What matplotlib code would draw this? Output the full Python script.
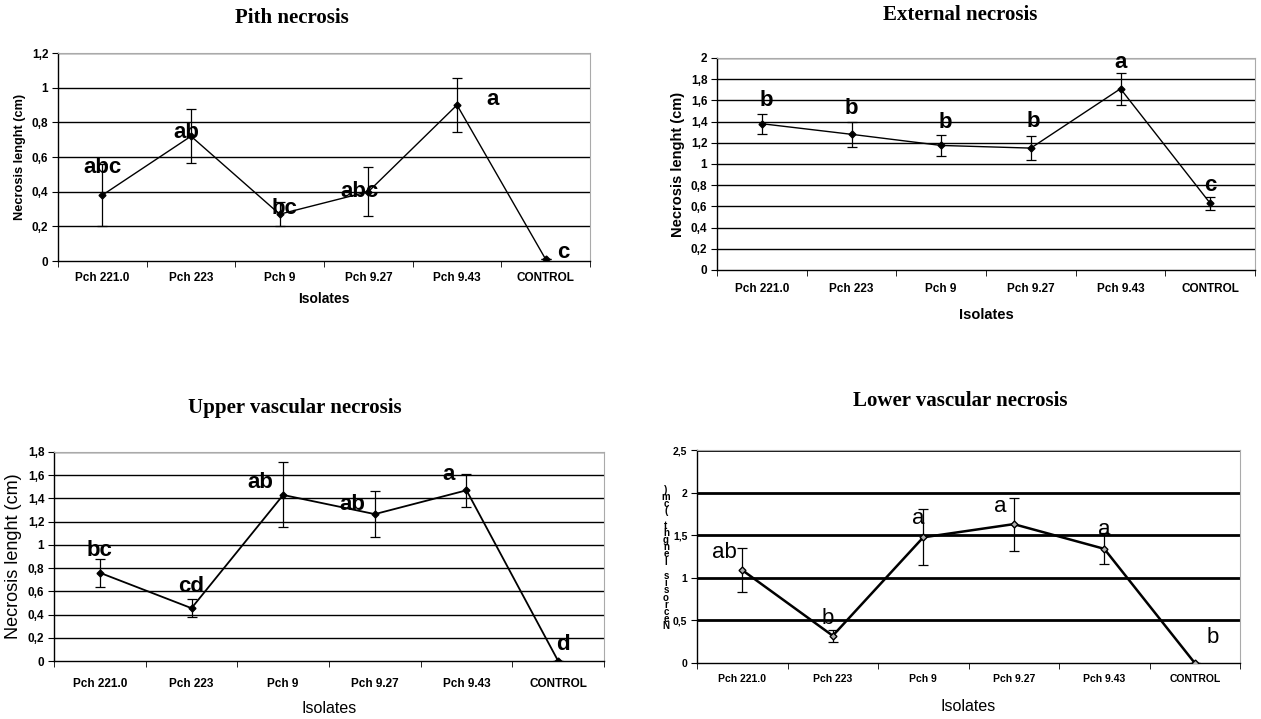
import numpy as np
import matplotlib
matplotlib.use('Agg')
import matplotlib.pyplot as plt
from matplotlib.ticker import FuncFormatter

isolates = ['Pch 221.0', 'Pch 223', 'Pch 9', 'Pch 9.27', 'Pch 9.43', 'CONTROL']

pith_mean = [0.38, 0.72, 0.27, 0.40, 0.90, 0.01]
pith_err = [0.18, 0.155, 0.07, 0.14, 0.155, 0.0]
pith_letters = ['abc', 'ab', 'bc', 'abc', 'a', 'c']

ext_mean = [1.38, 1.28, 1.175, 1.15, 1.71, 0.63]
ext_err = [0.095, 0.12, 0.095, 0.115, 0.15, 0.06]
ext_letters = ['b', 'b', 'b', 'b', 'a', 'c']

upper_mean = [0.76, 0.455, 1.43, 1.265, 1.47, 0.0]
upper_err = [0.12, 0.08, 0.28, 0.195, 0.14, 0.0]
upper_letters = ['bc', 'cd', 'ab', 'ab', 'a', 'd']

lower_mean = [1.09, 0.32, 1.475, 1.63, 1.34, 0.0]
lower_err = [0.26, 0.07, 0.33, 0.31, 0.18, 0.0]
lower_letters = ['ab', 'b', 'a', 'a', 'a', 'b']

W, H = 1261, 719
NARROW = ['Liberation Sans Narrow', 'Liberation Sans', 'DejaVu Sans']
SANS = ['Liberation Sans', 'DejaVu Sans']
SERIF = ['Liberation Serif', 'DejaVu Serif']

fig = plt.figure(figsize=(W / 100, H / 100), dpi=100)


def px_axes(left, top, right, bottom):
    return fig.add_axes([left / W, 1 - bottom / H, (right - left) / W, (bottom - top) / H])


def comma(v, pos):
    s = ('%g' % round(v, 2))
    return s.replace('.', ',')


def panel(ax, title, title_xy, mean, err, letters, offsets, ymax, ystep,
          grid_lw=1.0, line_lw=1.0, bold_letters=True, bold_labels=True,
          ylab_size=9, xlab_size=10, ylabel=True, marker_face='k',
          xpad=8, labpad=6):
    x = np.arange(len(isolates))
    ax.set_xlim(-0.5, len(isolates) - 0.5)
    ax.set_ylim(0, ymax)
    ticks = np.arange(0, ymax + 1e-9, ystep)
    ax.set_yticks(ticks)
    ax.yaxis.set_major_formatter(FuncFormatter(comma))
    for t in ticks[1:]:
        ax.axhline(t, color='k', lw=grid_lw, zorder=1)
    ax.set_xticks(x)
    ax.set_xticklabels(isolates)
    ax.set_xticks(np.arange(-0.5, len(isolates)), minor=True)
    ax.tick_params(axis='x', which='major', length=0, pad=xpad)
    ax.tick_params(axis='x', which='minor', length=4, color='k')
    ax.tick_params(axis='y', length=4, color='k', pad=3)
    for lab in ax.get_xticklabels() + ax.get_yticklabels():
        lab.set_family(NARROW)
        lab.set_fontweight('bold')
        lab.set_fontsize(8.5)
    for side in ['top', 'right']:
        ax.spines[side].set_color('#aaaaaa')
        ax.spines[side].set_linewidth(0.8)
    ax.spines['left'].set_linewidth(1.0)
    ax.spines['bottom'].set_linewidth(1.0)

    ax.errorbar(x, mean, yerr=err, color='k', lw=line_lw, elinewidth=0.9,
                capsize=3.5, capthick=0.9, marker='D', markersize=3.5,
                markerfacecolor=marker_face, markeredgecolor='k', zorder=3)

    w = 'bold' if bold_letters else 'normal'
    for i, (lt, (dx, dy)) in enumerate(zip(letters, offsets)):
        ax.text(x[i] + dx, mean[i] + dy, lt, fontsize=16, fontweight=w,
                family=SANS, ha='center', va='bottom', zorder=4)

    lw = 'bold' if bold_labels else 'normal'
    if ylabel:
        ax.set_ylabel('Necrosis lenght (cm)', family=SANS, fontweight=lw,
                      fontsize=ylab_size)
    ax.set_xlabel('Isolates', family=SANS, fontweight=lw, fontsize=xlab_size,
                  labelpad=labpad)
    fig.text(title_xy[0] / W, 1 - title_xy[1] / H, title, family=SERIF,
             fontweight='bold', fontsize=15, ha='center', va='center')


ax1 = px_axes(58, 53, 590, 261)
panel(ax1, 'Pith necrosis', (292, 18), pith_mean, pith_err, pith_letters,
      [(0.0, 0.1), (-0.05, -0.04), (0.05, -0.03), (-0.1, -0.06), (0.4, -0.03), (0.2, -0.02)],
      1.2, 0.2, ylab_size=9.2, xlab_size=10)

ax2 = px_axes(717, 58, 1255, 270)
panel(ax2, 'External necrosis', (960, 15), ext_mean, ext_err, ext_letters,
      [(0.05, 0.12), (0.0, 0.14), (0.05, 0.12), (0.03, 0.15), (0.0, 0.15), (0.0, 0.07)],
      2.0, 0.2, ylab_size=10.5, xlab_size=10.5, xpad=9, labpad=10)

ax3 = px_axes(54, 452, 604, 661)
panel(ax3, 'Upper vascular necrosis', (295, 408), upper_mean, upper_err, upper_letters,
      [(0.0, 0.1), (0.0, 0.1), (-0.25, 0.02), (-0.25, -0.01), (-0.2, 0.05), (0.05, 0.05)],
      1.8, 0.2, line_lw=1.3, bold_labels=False, ylab_size=13, xlab_size=11.5,
      xpad=12, labpad=8)

ax4 = px_axes(697, 450, 1240, 663)
panel(ax4, 'Lower vascular necrosis', (960, 401), lower_mean, lower_err, lower_letters,
      [(-0.2, 0.08), (-0.05, 0.08), (-0.05, 0.1), (-0.15, 0.08), (0.0, 0.1), (0.2, 0.18)],
      2.5, 0.5, grid_lw=2.0, line_lw=1.8, bold_letters=False, bold_labels=False,
      xlab_size=11.5, ylabel=False, marker_face='#b0b0b0', labpad=11)
for lab in ax4.get_xticklabels():
    lab.set_fontsize(7.5)
for lab in ax4.get_yticklabels():
    lab.set_fontsize(7.5)
# garbled, stacked y label of the last panel
fig.text(666 / W, 1 - 558 / H, '\n'.join(reversed('Necrosis lenght (cm)')),
         family=NARROW, fontweight='bold', fontsize=7, ha='center', va='center',
         linespacing=0.65)

fig.savefig('out.png', dpi=100)
